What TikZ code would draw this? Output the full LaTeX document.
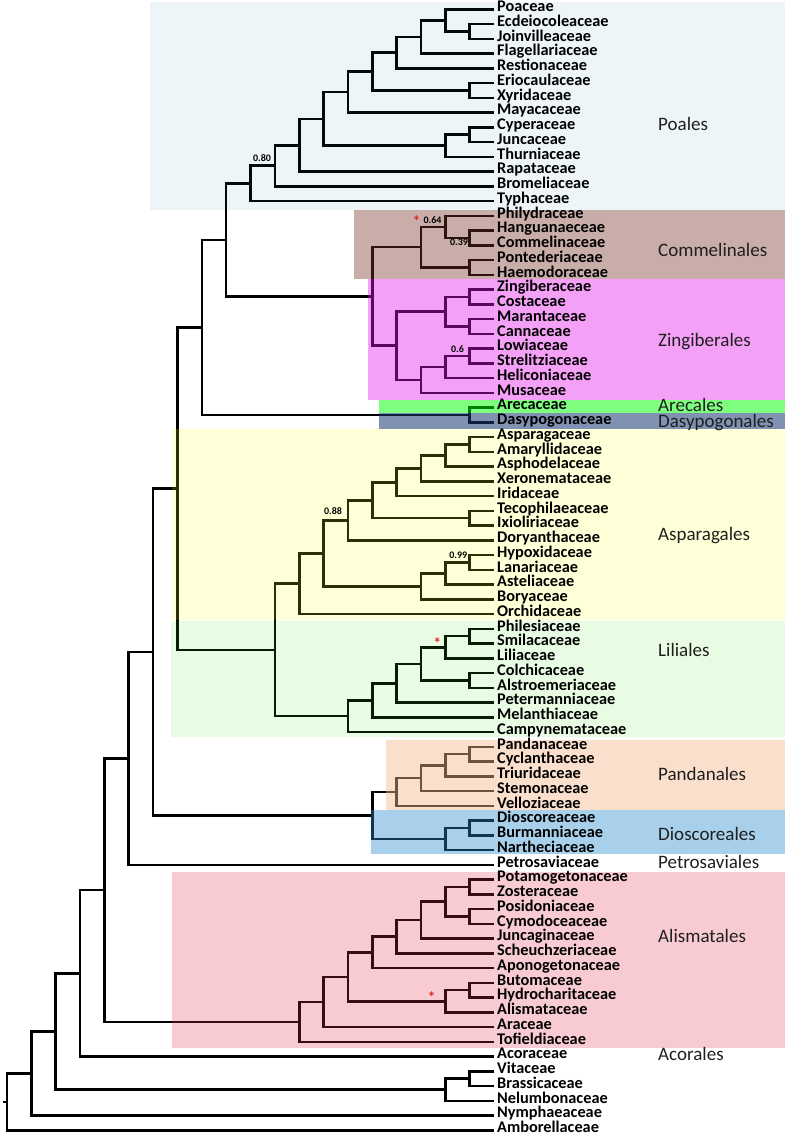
\documentclass[tikz,border=0pt]{standalone}
\usepackage{fontspec}
\setmainfont{Carlito}
\usetikzlibrary{calc}
\definecolor{cPoa}{RGB}{42,130,180}
\definecolor{cCom}{RGB}{118,50,38}
\definecolor{cZin}{RGB}{230,18,235}
\definecolor{cAre}{RGB}{1,255,1}
\definecolor{cDas}{RGB}{24,55,115}
\definecolor{cAsp}{RGB}{255,255,44}
\definecolor{cLil}{RGB}{63,238,30}
\definecolor{cPan}{RGB}{244,186,142}
\definecolor{cDio}{RGB}{40,138,205}
\definecolor{cAli}{RGB}{231,51,79}
\definecolor{astred}{RGB}{225,30,30}
\tikzset{
 br/.style={line width=2.6pt, draw=black},
 leaflab/.style={anchor=mid west, inner sep=0pt, font=\bfseries\fontsize{16.3}{16.3}\selectfont},
 ordlab/.style={anchor=base west, inner sep=0pt, text=black!88, font=\fontsize{19}{19}\selectfont},
 sup/.style={inner sep=0pt, font=\bfseries\fontsize{10}{10}\selectfont},
 ast/.style={inner sep=0pt, text=astred, font=\bfseries\fontsize{15}{15}\selectfont},
}
\newcommand\clade[4]{%
  \path let \p1 = ($(#3)!0.5!(#4)$) in ({(494-24.35*#2)*1pt},\y1) coordinate (#1);
  \draw[br] (#3) -| (#1) |- (#4);
}
\def\leaves{Poa/0/Poaceae, Ecd/1/Ecdeiocoleaceae, Joi/2/Joinvilleaceae, Fla/3/Flagellariaceae, Res/4/Restionaceae, Eri/5/Eriocaulaceae, Xyr/6/Xyridaceae, May/7/Mayacaceae, Cyp/8/Cyperaceae, Jun/9/Juncaceae, Thu/10/Thurniaceae, Rap/11/Rapataceae, Bro/12/Bromeliaceae, Typ/13/Typhaceae, Phi/14/Philydraceae, Han/15/Hanguanaeceae, Com/16/Commelinaceae, Pon/17/Pontederiaceae, Hae/18/Haemodoraceae, Zin/19/Zingiberaceae, Cos/20/Costaceae, Mar/21/Marantaceae, Can/22/Cannaceae, Low/23/Lowiaceae, Str/24/Strelitziaceae, Hel/25/Heliconiaceae, Mus/26/Musaceae, Are/27/Arecaceae, Das/28/Dasypogonaceae, Asp/29/Asparagaceae, Ama/30/Amaryllidaceae, Aph/31/Asphodelaceae, Xer/32/Xeronemataceae, Iri/33/Iridaceae, Tec/34/Tecophilaeaceae, Ixi/35/Ixioliriaceae, Dor/36/Doryanthaceae, Hyp/37/Hypoxidaceae, Lan/38/Lanariaceae, Ast/39/Asteliaceae, Bor/40/Boryaceae, Orc/41/Orchidaceae, Phs/42/Philesiaceae, Smi/43/Smilacaceae, Lil/44/Liliaceae, Col/45/Colchicaceae, Als/46/Alstroemeriaceae, Pet/47/Petermanniaceae, Mel/48/Melanthiaceae, Cam/49/Campynemataceae, Pan/50/Pandanaceae, Cyc/51/Cyclanthaceae, Tri/52/Triuridaceae, Ste/53/Stemonaceae, Vel/54/Velloziaceae, Dio/55/Dioscoreaceae, Bur/56/Burmanniaceae, Nar/57/Nartheciaceae, Pes/58/Petrosaviaceae, Pot/59/Potamogetonaceae, Zos/60/Zosteraceae, Pos/61/Posidoniaceae, Cym/62/Cymodoceaceae, Juc/63/Juncaginaceae, Sch/64/Scheuchzeriaceae, Apo/65/Aponogetonaceae, But/66/Butomaceae, Hyd/67/Hydrocharitaceae, Ali/68/Alismataceae, Ara/69/Araceae, Tof/70/Tofieldiaceae, Aco/71/Acoraceae, Vit/72/Vitaceae, Bra/73/Brassicaceae, Nel/74/Nelumbonaceae, Nym/75/Nymphaeaceae, Amb/76/Amborellaceae}
\begin{document}
\begin{tikzpicture}[x=1pt,y=-1pt]
\useasboundingbox (0,0) rectangle (786,1138);
\fill[white] (0,0) rectangle (786,1138);
% leaf tips
\foreach \nm/\ix/\tx in \leaves { \coordinate (\nm) at (494,{9.3+14.75*\ix}); }
% Poales
\clade{a1}{1}{Ecd}{Joi}
\clade{a2}{2}{Poa}{a1}
\clade{a3}{3}{a2}{Fla}
\clade{a4}{4}{a3}{Res}
\clade{a5}{1}{Eri}{Xyr}
\clade{a6}{5}{a4}{a5}
\clade{a7}{6}{a6}{May}
\clade{a8}{1}{Cyp}{Jun}
\clade{a9}{2}{a8}{Thu}
\clade{a10}{7}{a7}{a9}
\clade{a11}{8}{a10}{Rap}
\clade{a12}{9}{a11}{Bro}
\clade{a13}{10}{a12}{Typ}
% Commelinales
\clade{c1}{1}{Han}{Com}
\clade{c2}{2}{Phi}{c1}
\clade{c3}{1}{Pon}{Hae}
\clade{c4}{3}{c2}{c3}
% Zingiberales
\clade{z1}{1}{Zin}{Cos}
\clade{z2}{1}{Mar}{Can}
\clade{z3}{2}{z1}{z2}
\clade{z4}{1}{Low}{Str}
\clade{z5}{2}{z4}{Hel}
\clade{z6}{3}{z5}{Mus}
\clade{z7}{4}{z3}{z6}
\clade{cz}{5}{c4}{z7}
\clade{pcz}{11}{a13}{cz}
\clade{ad}{1}{Are}{Das}
\clade{cmn}{12}{pcz}{ad}
% Asparagales
\clade{s1}{1}{Asp}{Ama}
\clade{s2}{2}{s1}{Aph}
\clade{s3}{3}{s2}{Xer}
\clade{s4}{4}{s3}{Iri}
\clade{s5}{1}{Tec}{Ixi}
\clade{s6}{5}{s4}{s5}
\clade{s7}{6}{s6}{Dor}
\clade{s8}{1}{Hyp}{Lan}
\clade{s9}{2}{s8}{Ast}
\clade{s10}{3}{s9}{Bor}
\clade{s11}{7}{s7}{s10}
\clade{s12}{8}{s11}{Orc}
% Liliales
\clade{l1}{1}{Phs}{Smi}
\clade{l2}{2}{l1}{Lil}
\clade{l3}{1}{Col}{Als}
\clade{l4}{3}{l2}{l3}
\clade{l5}{4}{l4}{Pet}
\clade{l6}{5}{l5}{Mel}
\clade{l7}{6}{l6}{Cam}
\clade{al}{9}{s12}{l7}
\clade{m1}{13}{cmn}{al}
% Pandanales + Dioscoreales
\clade{p1}{1}{Pan}{Cyc}
\clade{p2}{2}{p1}{Tri}
\clade{p3}{3}{p2}{Ste}
\clade{p4}{4}{p3}{Vel}
\clade{d1}{1}{Dio}{Bur}
\clade{d2}{2}{d1}{Nar}
\clade{pd}{5}{p4}{d2}
\clade{m2}{14}{m1}{pd}
\clade{m3}{15}{m2}{Pes}
% Alismatales
\clade{t1}{1}{Pot}{Zos}
\clade{t2}{1}{Pos}{Cym}
\clade{t3}{2}{t1}{t2}
\clade{t4}{3}{t3}{Juc}
\clade{t5}{4}{t4}{Sch}
\clade{t6}{5}{t5}{Apo}
\clade{t7}{1}{But}{Hyd}
\clade{t8}{2}{t7}{Ali}
\clade{t9}{6}{t6}{t8}
\clade{t10}{7}{t9}{Ara}
\clade{t11}{8}{t10}{Tof}
\clade{m4}{16}{m3}{t11}
\clade{m5}{17}{m4}{Aco}
\clade{e1}{1}{Vit}{Bra}
\clade{e2}{2}{e1}{Nel}
\clade{m6}{18}{m5}{e2}
\clade{m7}{19}{m6}{Nym}
\clade{root}{20}{m7}{Amb}
\path (root) ++(-4,0) coordinate (rootstub);
\draw[br] (rootstub) -- (root);
% translucent order boxes
\fill[cPoa, fill opacity=0.08] (150,2) rectangle (785,209.5);
\fill[cCom, fill opacity=0.40] (354,209.5) rectangle (785,279);
\fill[cZin, fill opacity=0.40] (368,279) rectangle (785,400);
\fill[cAre, fill opacity=0.50] (379,400) rectangle (785,412.5);
\fill[cDas, fill opacity=0.55] (379,412.5) rectangle (785,428.5);
\fill[cAsp, fill opacity=0.18] (172,428.5) rectangle (785,619.5);
\fill[cLil, fill opacity=0.12] (171,621) rectangle (785,737);
\fill[cPan, fill opacity=0.45] (386,740) rectangle (785,810);
\fill[cDio, fill opacity=0.40] (371,810) rectangle (785,854);
\fill[cAli, fill opacity=0.25] (172,872) rectangle (785,1047.5);
% leaf names
\foreach \nm/\ix/\tx in \leaves { \node[leaflab] (\nm-l) at (497,{9.3+14.75*\ix}) {\tx}; }
% order names
\node[ordlab] (oPoa) at (658,130.7) {Poales};
\node[ordlab] (oCom) at (658,256.7) {Commelinales};
\node[ordlab] (oZin) at (658,346.7) {Zingiberales};
\node[ordlab] (oAre) at (658,411.5) {Arecales};
\node[ordlab] (oDas) at (658,427.2) {Dasypogonales};
\node[ordlab] (oAsp) at (658,540.7) {Asparagales};
\node[ordlab] (oLil) at (658,656.7) {Liliales};
\node[ordlab] (oPan) at (658,780) {Pandanales};
\node[ordlab] (oDio) at (658,840) {Dioscoreales};
\node[ordlab] (oPet) at (658,868.3) {Petrosaviales};
\node[ordlab] (oAli) at (658,942.7) {Alismatales};
\node[ordlab] (oAco) at (658,1060) {Acorales};
% support values and asterisks
\node[sup] (v080) at (262,158) {0.80};
\node[sup] (v064) at (432.5,220) {0.64};
\node[sup] (v039) at (459,242.7) {0.39};
\node[sup] (v06) at (457.5,349.3) {0.6};
\node[sup] (v088) at (333,510.7) {0.88};
\node[sup] (v099) at (458.3,555) {0.99};
\node[ast] (ast1) at (416.7,221.5) {*};
\node[ast] (ast2) at (437.3,643.2) {*};
\node[ast] (ast3) at (431.7,997.5) {*};
\end{tikzpicture}
\end{document}
